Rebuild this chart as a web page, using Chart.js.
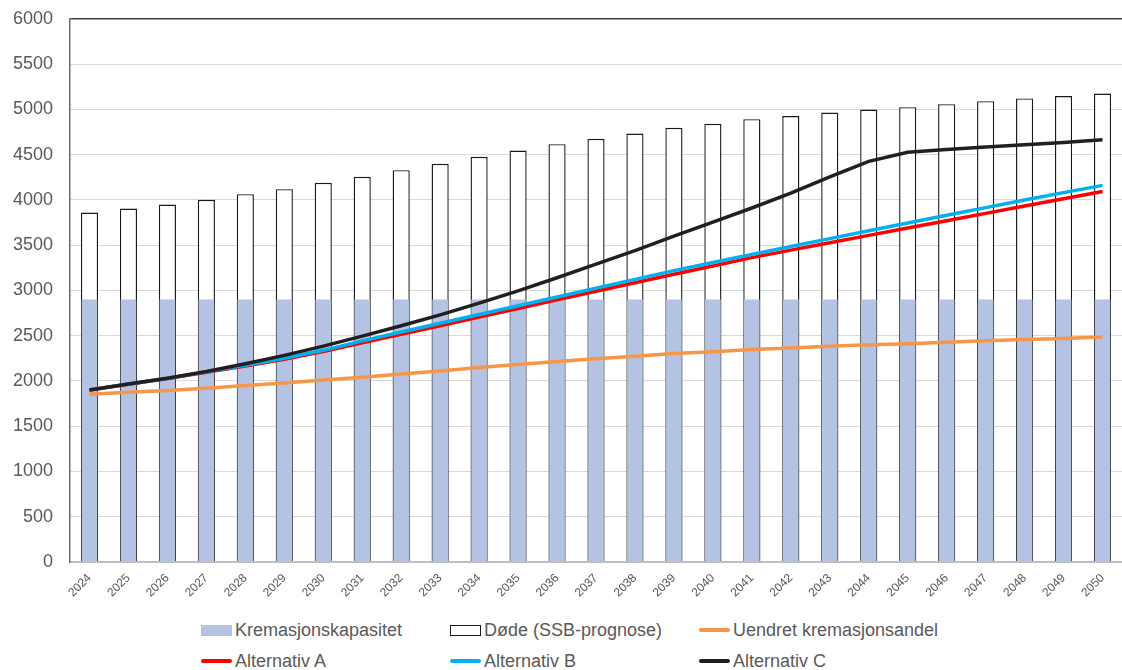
<!DOCTYPE html>
<html lang="no">
<head>
<meta charset="utf-8">
<script src="https://cdn.jsdelivr.net/npm/chart.js@4.4.1/dist/chart.umd.min.js"></script>
<style>
  html, body { margin: 0; padding: 0; background: #fff; overflow: hidden; width: 1122px; height: 670px; }
  #wrap { position: relative; width: 1122px; height: 670px; overflow: hidden; }
  canvas { position: absolute; left: 0; top: -9px; }
  #legend { position: absolute; left: 0; top: 618px; width: 1122px; font-family: "Liberation Sans", Arial, sans-serif; font-size: 18px; color: #595959; }
  .item { position: absolute; height: 24px; display: flex; align-items: center; white-space: nowrap; }
  .mark { width: 31px; margin-right: 3px; box-sizing: border-box; }
</style>
</head>
<body>
<div id="wrap">
  <canvas id="chart" width="1122" height="619"></canvas>
  <div id="legend"></div>
</div>
<script>
const years = ['2024','2025','2026','2027','2028','2029','2030','2031','2032','2033','2034','2035','2036','2037','2038','2039','2040','2041','2042','2043','2044','2045','2046','2047','2048','2049','2050'];

// Kremasjonskapasitet (fast kapasitet per år)
const kapasitet = [2900,2900,2900,2900,2900,2900,2900,2900,2900,2900,2900,2900,2900,2900,2900,2900,2900,2900,2900,2900,2900,2900,2900,2900,2900,2900,2900];

// Døde (SSB-prognose)
const dode = [3860,3904,3948,4000,4063,4118,4188,4254,4328,4398,4475,4545,4615,4674,4733,4796,4840,4891,4925,4965,4998,5024,5057,5090,5120,5146,5175];

// Uendret kremasjonsandel
const uendret = [1853,1874,1895,1920,1950,1977,2010,2042,2077,2111,2148,2182,2215,2244,2272,2302,2323,2348,2364,2383,2399,2412,2427,2443,2458,2470,2484];

// Alternativ A
const altA = [1900,1963,2028,2095,2166,2240,2325,2420,2515,2610,2705,2800,2895,2990,3084,3179,3270,3362,3445,3527,3608,3690,3770,3851,3932,4012,4092];

// Alternativ B
const altB = [1900,1965,2030,2100,2172,2250,2338,2442,2540,2637,2734,2831,2928,3025,3122,3218,3308,3398,3485,3572,3658,3745,3830,3914,3998,4080,4160];

// Alternativ C
const altC = [1900,1965,2030,2105,2190,2282,2385,2495,2610,2730,2860,2995,3140,3290,3440,3600,3755,3910,4075,4255,4425,4525,4555,4585,4610,4635,4665];

const yTicks = { min: 0, max: 6000, step: 500 };

const FONT = '"Liberation Sans", Arial, sans-serif';
const GREY = '#595959';

const datasets = [
  { type: 'bar', label: 'Kremasjonskapasitet', data: kapasitet, backgroundColor: '#b4c3e4', borderWidth: 0,
    barPercentage: 0.40, categoryPercentage: 1, grouped: false, order: 4,
    legend: { kind: 'box', fill: '#b4c3e4', border: 'none' } },
  { type: 'bar', label: 'Døde (SSB-prognose)', data: dode, backgroundColor: '#ffffff', borderColor: '#1a1a1a', borderWidth: 1.4,
    barPercentage: 0.44, categoryPercentage: 1, grouped: false, order: 5,
    legend: { kind: 'box', fill: '#ffffff', border: '1.4px solid #1a1a1a' } },
  { type: 'line', label: 'Uendret kremasjonsandel', data: uendret, borderColor: '#f79646', borderWidth: 3.5, pointRadius: 0, tension: 0, order: 3,
    legend: { kind: 'line', color: '#f79646' } },
  { type: 'line', label: 'Alternativ A', data: altA, borderColor: '#ff0000', borderWidth: 3.5, pointRadius: 0, tension: 0, order: 2,
    legend: { kind: 'line', color: '#ff0000' } },
  { type: 'line', label: 'Alternativ B', data: altB, borderColor: '#00b0f0', borderWidth: 3.5, pointRadius: 0, tension: 0, order: 1,
    legend: { kind: 'line', color: '#00b0f0' } },
  { type: 'line', label: 'Alternativ C', data: altC, borderColor: '#231f20', borderWidth: 3.5, pointRadius: 0, tension: 0, order: 0,
    legend: { kind: 'line', color: '#231f20' } }
];

const chart = new Chart(document.getElementById('chart'), {
  data: { labels: years, datasets: datasets },
  options: {
    responsive: false,
    animation: false,
    events: [],
    layout: { padding: { top: 10, left: 0, right: 0, bottom: 0 } },
    plugins: { legend: { display: false }, tooltip: { enabled: false } },
    scales: {
      x: {
        grid: { display: false, drawTicks: false },
        border: { display: true, color: '#bfbfbf', width: 2 },
        ticks: { color: GREY, font: { family: FONT, size: 12 }, minRotation: 45, maxRotation: 45, padding: 9, autoSkip: false },
        afterFit: (s) => { s.height = 48; }
      },
      y: {
        min: yTicks.min, max: yTicks.max,
        grid: {
          drawTicks: false,
          color: (ctx) => ctx.tick.value === yTicks.max ? '#404040' : (ctx.tick.value === 0 ? '#bfbfbf' : '#d9d9d9'),
          lineWidth: (ctx) => ctx.tick.value === 0 ? 2 : (ctx.tick.value === yTicks.max ? 1.5 : 1)
        },
        border: { display: true, color: '#6b6b6b', width: 1.5 },
        ticks: { stepSize: yTicks.step, color: GREY, font: { family: FONT, size: 18 }, padding: 17,
                 callback: (v) => String(v) },
        afterFit: (s) => { s.width = 70; }
      }
    }
  }
});

// Legend in three fixed columns, two rows
const legendEl = document.getElementById('legend');
const colX = [201, 450, 699];
const rowY = [0, 31];
chart.data.datasets.forEach((ds, i) => {
  const item = document.createElement('div');
  item.className = 'item';
  item.style.left = colX[i % 3] + 'px';
  item.style.top = rowY[Math.floor(i / 3)] + 'px';
  const mark = document.createElement('span');
  mark.className = 'mark';
  if (ds.legend.kind === 'box') {
    mark.style.height = '11px';
    mark.style.background = ds.legend.fill;
    mark.style.border = ds.legend.border;
  } else {
    mark.style.height = '4px';
    mark.style.background = ds.legend.color;
    mark.style.borderRadius = '2px';
  }
  const txt = document.createElement('span');
  txt.textContent = ds.label;
  item.appendChild(mark);
  item.appendChild(txt);
  legendEl.appendChild(item);
});
</script>
</body>
</html>
